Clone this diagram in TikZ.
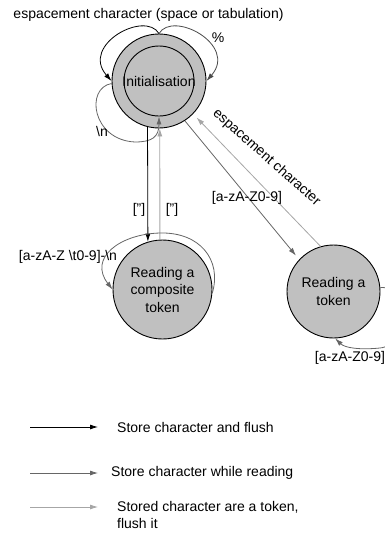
\documentclass[tikz,border=0pt]{standalone}
\usepackage{fontspec}
\setmainfont{Liberation Sans}
\usetikzlibrary{arrows.meta}
\definecolor{fillgray}{HTML}{C0C0C0}
\definecolor{midline}{HTML}{4A4A4A}
\definecolor{darkline}{HTML}{666666}
\definecolor{lightline}{HTML}{A6A6A6}
\begin{document}
\begin{tikzpicture}[x=1pt,y=-1pt,
  every node/.style={font=\fontsize{14}{17.5}\selectfont},
  state/.style={circle,draw=black,line width=0.9pt,fill=fillgray,inner sep=0pt,align=center},
  arr/.style={-{Latex[length=8pt,width=5pt]},line width=0.8pt},
  blackarr/.style={arr,draw=black},
  midarr/.style={arr,draw=midline},
  darkarr/.style={arr,draw=darkline},
  lightarr/.style={arr,draw=lightline}]
\useasboundingbox (0,0) rectangle (385,536);

% states
\node[state,minimum size=94pt] (init) at (159,81) {};
\node[circle,draw=black,line width=0.9pt,minimum size=70pt,inner sep=0pt] (inner) at (159,81) {};
\node (initlbl) at (159,81) {Initialisation};
\node[state,minimum size=99pt] (comp) at (162.5,289.5) {Reading a\\composite\\token};
\node[state,minimum size=93pt] (tok) at (333.5,291.5) {Reading a\\token};

% loops on Initialisation
\draw[blackarr] (init.north) .. controls (145,10) and (80,45) .. (init.west);
\draw[midarr] (init.north) .. controls (173,10) and (238,45) .. (init.east);
\draw[darkarr] (init.183) .. controls (85,88) and (92,140) .. (135,142)
   .. controls (152,142) and (159,137) .. (inner.south);

% vertical transitions
\draw[blackarr] (init.256.5) -- (comp.107);
\draw[lightarr] (comp.93) -- (init.271);

% diagonal transitions
\draw[darkarr,shorten >=5pt] (init.-57) -- (tok.137);
\draw[lightarr,shorten >=5pt] (tok.106) -- (init.-44);

% loop on composite
\draw[darkarr] (comp.-4) .. controls (222,260) and (200,232) .. (160,233)
   .. controls (120,234) and (88,258) .. (comp.180);

% loop on token
\draw[darkarr] (tok.5) .. controls (405,285) and (410,345) .. (380,348)
   .. controls (360,350) and (345,348) .. (tok.272);

% labels
\node (ltop) at (148.5,15) {espacement character (space or tabulation)};
\node (lpct) at (218,38) {\%};
\node (lnl) at (102,131) {\textbackslash n};
\node (lq1) at (139,210) {["]};
\node (lq2) at (172,210) {["]};
\node (lesp) at (266.5,157.5) [rotate=-41.6] {espacement character};
\node (lalnum) at (247,198) {[a-zA-Z0-9]};
\node (lcomp) at (68,257) {[a-zA-Z \textbackslash t0-9]-\textbackslash n};
\node (ltok) at (350,358) {[a-zA-Z0-9]};

% legend
\coordinate (l1s) at (30,427);
\coordinate (l1e) at (98,427);
\coordinate (l2s) at (30,473);
\coordinate (l2e) at (98,473);
\coordinate (l3s) at (30,507);
\coordinate (l3e) at (98,507);
\draw[blackarr] (l1s) -- (l1e);
\draw[darkarr] (l2s) -- (l2e);
\draw[lightarr] (l3s) -- (l3e);
\node[anchor=west,inner sep=0pt] (t1) at (117,427) {Store character and flush};
\node[anchor=west,inner sep=0pt] (t2) at (111,473) {Store character while reading};
\node[anchor=west,inner sep=0pt,align=left] (t3) at (117,515) {Stored character are a token,\\flush it};
\end{tikzpicture}
\end{document}
